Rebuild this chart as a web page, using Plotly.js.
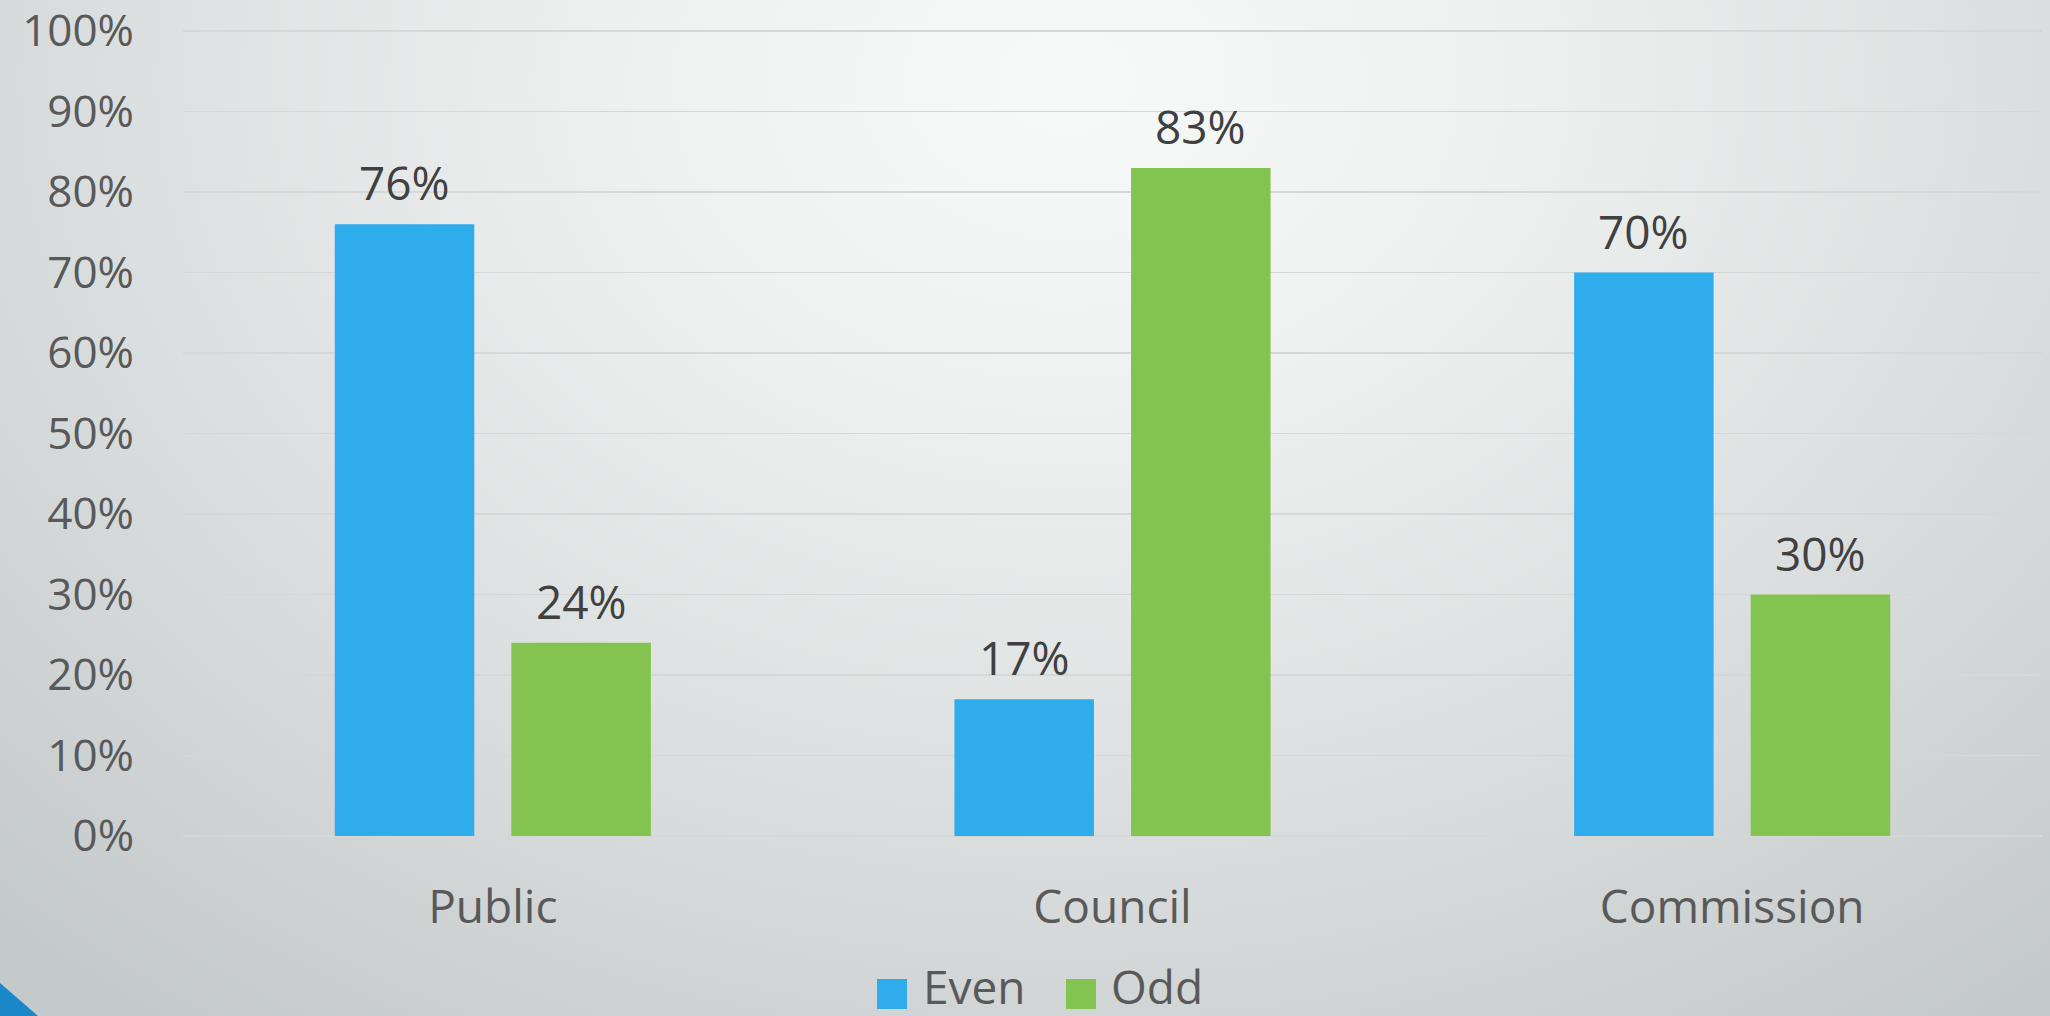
<!DOCTYPE html>
<html>
<head>
<meta charset="utf-8">
<script src="https://cdn.plot.ly/plotly-3.0.1.min.js"></script>
<style>
  html, body { margin: 0; padding: 0; width: 2050px; height: 1016px; overflow: hidden; }
  body {
    background: radial-gradient(ellipse 75% 115% at 52% 8%, #f8f9f9 0%, #eef0f0 30%, #dcdfdf 62%, #c4c9ca 100%);
    position: relative;
  }
  #chart { width: 2050px; height: 1016px; position: absolute; left: 0; top: 0; }
  #corner {
    position: absolute; left: 0; top: 0; width: 2050px; height: 1016px;
    background: #1a88c8;
    clip-path: polygon(0px 983px, 38px 1016px, 0px 1016px);
  }
</style>
</head>
<body>
<div id="corner"></div>
<div id="chart"></div>
<script>
// ---- data ----
const categories = ['Public', 'Council', 'Commission'];
const seriesNames = ['Even', 'Odd'];
const evenValues = [76, 17, 70];
const oddValues = [24, 83, 30];
const yTickValues = [0, 10, 20, 30, 40, 50, 60, 70, 80, 90, 100];
const yTickLabels = ['0%', '10%', '20%', '30%', '40%', '50%', '60%', '70%', '80%', '90%', '100%'];

// ---- styles ----
const colors = ['#2facec', '#82c44f'];
const W = 2050, H = 1016;
const M = { l: 183, r: 8, t: 25, b: 180 };
const yMax = 100.75;
const plotW = W - M.l - M.r, plotH = H - M.t - M.b;
const bargap = 0.43, bargroupgap = 0.21;
const font = 'Open Sans, Lato, sans-serif';

const seriesValues = [evenValues, oddValues];
const traces = seriesNames.map((name, i) => ({
  type: 'bar',
  name: name,
  x: categories,
  y: seriesValues[i],
  marker: { color: colors[i] },
  hoverinfo: 'skip',
  showlegend: false
}));

// data labels (positioned from data values through the axes)
const catW = plotW / categories.length;
const slot = catW * (1 - bargap) / seriesNames.length;
const annotations = [];
seriesNames.forEach((name, i) => {
  const offset = (i - (seriesNames.length - 1) / 2) * slot;
  categories.forEach((c, j) => {
    annotations.push({
      xref: 'x', yref: 'y', x: c, y: seriesValues[i][j],
      text: seriesValues[i][j] + '%',
      showarrow: false, xanchor: 'center', yanchor: 'bottom',
      xshift: offset, yshift: 9,
      font: { family: font, size: 46, color: '#404040' }
    });
  });
});

// custom legend (large swatches)
const px2x = px => (px - M.l) / plotW;
const px2y = py => (M.t + plotH - py) / plotH;
const legendSwatchX = [877, 1066];
const legendTextX = [922, 1110];
const shapes = [];
seriesNames.forEach((name, i) => {
  shapes.push({
    type: 'rect', xref: 'paper', yref: 'paper',
    x0: px2x(legendSwatchX[i]), x1: px2x(legendSwatchX[i] + 30),
    y0: px2y(1009), y1: px2y(979),
    fillcolor: colors[i], line: { width: 0 }
  });
  annotations.push({
    xref: 'paper', yref: 'paper', x: px2x(legendTextX[i]), y: px2y(986),
    text: name, showarrow: false, xanchor: 'left', yanchor: 'middle',
    borderpad: 0,
    font: { family: font, size: 46, color: '#595959' }
  });
});

const layout = {
  width: W, height: H,
  margin: M,
  paper_bgcolor: 'rgba(0,0,0,0)',
  plot_bgcolor: 'rgba(0,0,0,0)',
  barmode: 'group',
  bargap: bargap,
  bargroupgap: bargroupgap,
  showlegend: false,
  xaxis: {
    type: 'category',
    showgrid: false, zeroline: false, showline: false, ticks: '',
    ticklabelstandoff: 40,
    tickfont: { family: font, size: 46, color: '#595959' }
  },
  yaxis: {
    range: [0, yMax],
    tickvals: yTickValues, ticktext: yTickLabels,
    showgrid: true, gridcolor: '#d6d8d8', gridwidth: 1.5,
    zeroline: true, zerolinecolor: '#d6d8d8', zerolinewidth: 1.5,
    showline: false, ticks: '',
    ticklabelstandoff: 48,
    ticklabeloverflow: 'allow',
    tickfont: { family: font, size: 44, color: '#595959' }
  },
  annotations: annotations,
  shapes: shapes
};

Plotly.newPlot('chart', traces, layout, { displayModeBar: false, staticPlot: true });
</script>
</body>
</html>
